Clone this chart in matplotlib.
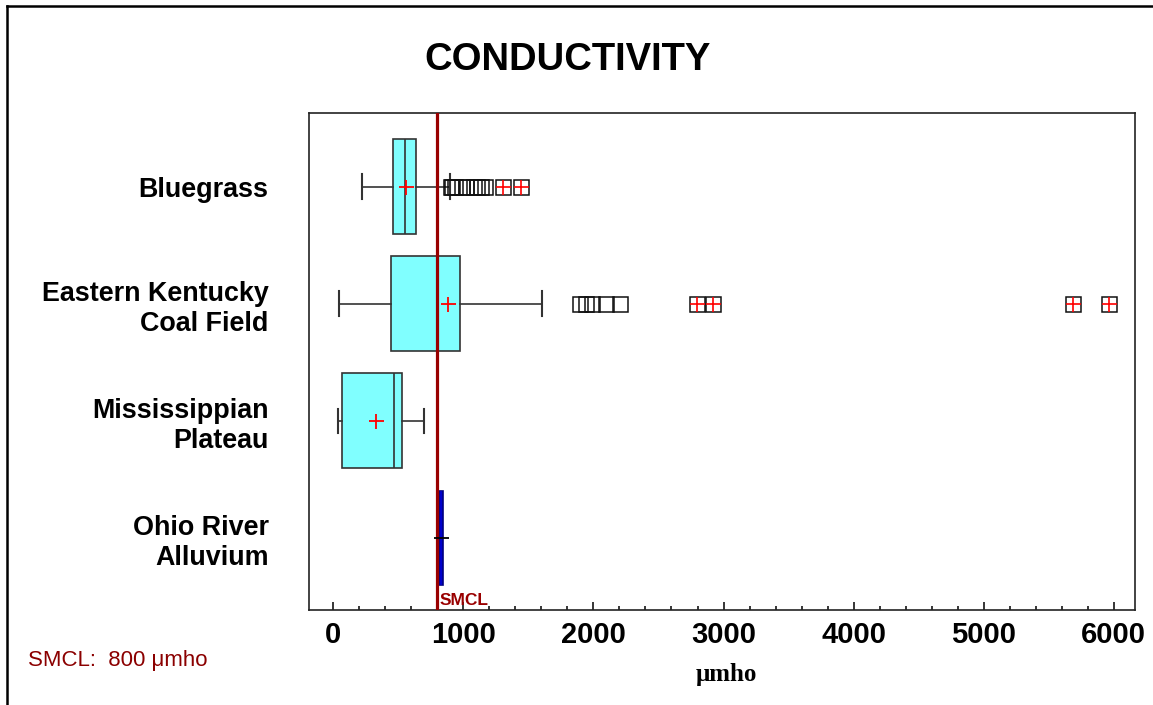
import matplotlib
matplotlib.use("Agg")
import matplotlib.pyplot as plt
from matplotlib.lines import Line2D
from matplotlib.ticker import MultipleLocator

plt.rcParams['font.family'] = ['Liberation Sans', 'DejaVu Sans']
plt.rcParams['font.weight'] = 'bold'

# Box plot summaries (umho)
regions = ["Bluegrass", "Eastern Kentucky\nCoal Field", "Mississippian\nPlateau", "Ohio River\nAlluvium"]
q1 = [460, 442, 68, 814]
medians = [548, 800, 465, 830]
q3 = [635, 975, 527, 846]
whisk_lo = [219, 40, 37, 814]
whisk_hi = [896, 1604, 698, 846]
means = [558, 878, 327, 828]
outliers = [
    [902, 915, 935, 992, 1023, 1082, 1105, 1133, 1164],
    [1895, 1941, 1985, 2095, 2204],
    [],
    [],
]
far_outliers = [
    [1304, 1442],
    [2794, 2919, 5688, 5965],
    [],
    [],
]
smcl = 800
x_ticks = [0, 1000, 2000, 3000, 4000, 5000, 6000]

fig = plt.figure(figsize=(11.53, 7.05), dpi=100)
ax = fig.add_axes([0.268, 0.1348, 0.7164, 0.7049])

positions = list(range(1, len(regions) + 1))

# build stats for bxp
stats = []
for i in range(len(regions)):
    stats.append(dict(med=medians[i], q1=q1[i], q3=q3[i],
                      whislo=whisk_lo[i], whishi=whisk_hi[i],
                      fliers=[], label=regions[i]))

art = ax.bxp(stats, positions=positions, widths=0.81, orientation='horizontal',
             patch_artist=True, showfliers=False, capwidths=0.21,
             boxprops=dict(edgecolor='#333333', linewidth=1.2),
             medianprops=dict(color='#333333', linewidth=1.2),
             whiskerprops=dict(color='#333333', linewidth=1.2),
             capprops=dict(color='#333333', linewidth=1.5))

fills = ['#80FFFF', '#80FFFF', '#80FFFF', '#0000CC']
for box, fc in zip(art['boxes'], fills):
    box.set_facecolor(fc)
    box.set_zorder(2)
# Ohio River box is a thin dark blue bar
art['boxes'][3].set_edgecolor('#000080')
art['medians'][3].set_color('#0000CC')
for cap in art['caps'][6:8]:
    cap.set_visible(False)

# mean markers
for i in range(3):
    ax.plot(means[i], positions[i], '+', color='red', ms=10.8, mew=1.3, zorder=5)
ax.plot(means[3], positions[3], '_', color='black', ms=10.8, mew=1.3, zorder=5)

# outliers as open squares, far outliers with red crosses
for i in range(len(regions)):
    if outliers[i]:
        ax.plot(outliers[i], [positions[i]] * len(outliers[i]), 's', ms=10.8,
                mfc='none', mec='#111111', mew=1.1, zorder=4)
    if far_outliers[i]:
        ax.plot(far_outliers[i], [positions[i]] * len(far_outliers[i]), 's', ms=10.8,
                mfc='white', mec='#111111', mew=1.1, zorder=4)
        ax.plot(far_outliers[i], [positions[i]] * len(far_outliers[i]), '+', ms=10.8,
                color='red', mew=1.2, zorder=5)

# SMCL reference line
ax.axvline(smcl, color='#990000', lw=2.3, zorder=3)
ax.text(smcl + 15, 4.6, 'SMCL', color='#990000', fontsize=12.5, fontweight='bold',
        ha='left', va='bottom', zorder=6)

ax.set_xlim(-188, 6165)
ax.set_ylim(4.615, 0.371)
ax.set_xticks(x_ticks)
ax.set_xticklabels([str(t) for t in x_ticks])
ax.xaxis.set_minor_locator(MultipleLocator(200))
ax.tick_params(axis='x', which='major', direction='in', length=6, width=1.1,
               labelsize=21, pad=8)
ax.tick_params(axis='x', which='minor', direction='in', length=3, width=1.1)
ax.tick_params(axis='y', length=0, pad=29, labelsize=19.4)
for lbl in ax.get_yticklabels():
    lbl.set_linespacing(1.2)
    lbl.set_horizontalalignment('right')

for sp in ax.spines.values():
    sp.set_linewidth(1.2)
    sp.set_color('#222222')

fig.text(0.4926, 0.915, 'CONDUCTIVITY', ha='center', va='center',
         fontsize=27.5, fontweight='bold')
fig.text(0.630, 0.0426, 'μmho', ha='center', va='center', fontsize=18,
         fontweight='bold', family=['Liberation Serif', 'DejaVu Serif'])
fig.text(0.0243, 0.0638, 'SMCL:  800 μmho', ha='left', va='center', fontsize=16,
         fontweight='normal', color='#8B0000')

# border lines at the top and left of the picture
fig.add_artist(Line2D([7 / 1153, 7 / 1153], [0, 1 - 6 / 705], transform=fig.transFigure,
                      color='black', lw=1.8))
fig.add_artist(Line2D([7 / 1153, 1], [1 - 6 / 705, 1 - 6 / 705], transform=fig.transFigure,
                      color='black', lw=1.8))

fig.savefig('out.png', dpi=100)
